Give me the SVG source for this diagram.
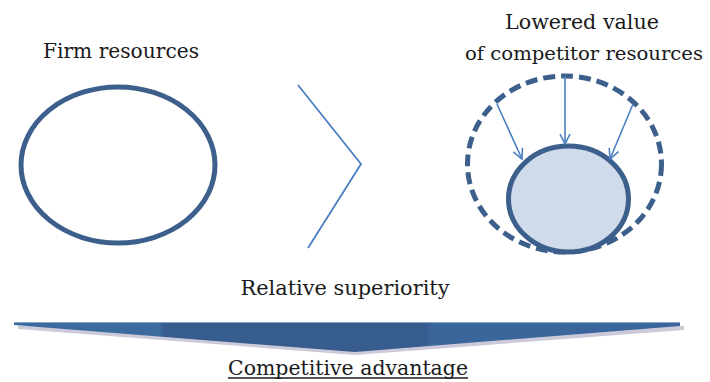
<svg xmlns="http://www.w3.org/2000/svg" width="710" height="382" viewBox="0 0 710 382">
<style>
.t{font-family:'DejaVu Serif','Liberation Serif',serif;font-size:21px;fill:#1a1a1a}
.res{fill:none;stroke:#3d5f8b;stroke-width:5}
.arr{stroke:#4a7fc1;stroke-width:1.6;fill:none}
</style>
<defs>
<marker id="ah" viewBox="0 0 12 12" refX="11" refY="6" markerWidth="12" markerHeight="12" markerUnits="userSpaceOnUse" orient="auto">
<path d="M1,1 L11,6 L1,11" fill="none" stroke="#4a7fc1" stroke-width="1.6"/>
</marker>
<linearGradient id="bg" x1="0" y1="0" x2="1" y2="0">
<stop offset="0" stop-color="#3b6a9f"/>
<stop offset="0.22" stop-color="#3b6a9f"/>
<stop offset="0.225" stop-color="#375d8f"/>
<stop offset="0.62" stop-color="#375d8f"/>
<stop offset="0.625" stop-color="#3a669b"/>
<stop offset="1" stop-color="#3a669b"/>
</linearGradient>
</defs>
<g id="firm">
<ellipse class="res" cx="118" cy="165" rx="97" ry="78"/>
<text class="t" x="121" y="58" text-anchor="middle" textLength="156" lengthAdjust="spacingAndGlyphs">Firm resources</text>
</g>
<g id="superiority">
<polyline points="298,85 361,164 308,248" fill="none" stroke="#4a7fc1" stroke-width="1.8"/>
<text class="t" x="345" y="295" text-anchor="middle" textLength="209" lengthAdjust="spacingAndGlyphs">Relative superiority</text>
</g>
<g id="competitor">
<ellipse cx="564.5" cy="164" rx="97" ry="88" fill="none" stroke="#3d5f8b" stroke-width="5" stroke-dasharray="12 6"/>
<ellipse cx="568.5" cy="199" rx="60" ry="53" fill="#cfdbea" stroke="#3d5f8b" stroke-width="5"/>
<text class="t" x="582" y="29" text-anchor="middle" textLength="154" lengthAdjust="spacingAndGlyphs">Lowered value</text>
<text class="t" x="584" y="60" text-anchor="middle" font-size="18" style="font-size:18px" textLength="238" lengthAdjust="spacingAndGlyphs">of competitor resources</text>
</g>
<g id="connectors">
<line class="arr" x1="565" y1="76" x2="565" y2="144" marker-end="url(#ah)"/>
<line class="arr" x1="497" y1="104" x2="522" y2="159" marker-end="url(#ah)"/>
<line class="arr" x1="633" y1="104" x2="610" y2="159" marker-end="url(#ah)"/>
</g>
<g id="advantage">
<polygon points="18,326 684,326 684,330 355,355 18,329" fill="#8d87aa" opacity="0.45"/>
<polygon points="14,322 680,322 680,326 355,352 14,325" fill="url(#bg)"/>
<line x1="14" y1="322.5" x2="680" y2="322.5" stroke="#86a3c8" stroke-width="1"/>
<text class="t" x="348" y="375" text-anchor="middle" textLength="240" lengthAdjust="spacingAndGlyphs">Competitive advantage</text>
<line x1="228" y1="378" x2="468" y2="378" stroke="#1a1a1a" stroke-width="1.3"/>
</g>
</svg>
